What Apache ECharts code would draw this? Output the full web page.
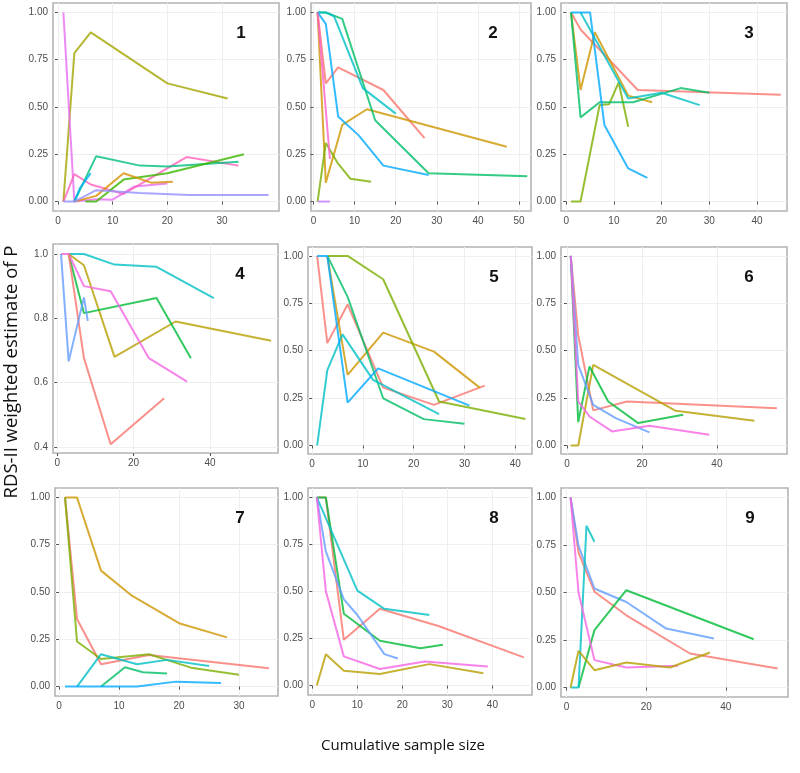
<!DOCTYPE html>
<html>
<head>
<meta charset="utf-8">
<script src="https://cdn.jsdelivr.net/npm/echarts@6/dist/echarts.min.js"></script>
<style>
	html, body { margin: 0; padding: 0; background: #fff; }
	#chart { width: 800px; height: 773px; }
</style>
</head>
<body>
<div id="chart"></div>
<script>
// values, one array of [sample size, estimate] per line

// panel 1
const p1_olive  = [[1, 0], [3, 0.785], [6, 0.895], [20, 0.625], [31, 0.545]];
const p1_violet = [[1, 1], [3, 0], [7, 0.012], [10, 0.01], [14, 0.08], [20, 0.095]];
const p1_pink   = [[1, 0], [3, 0.145], [6, 0.09], [12, 0.04], [23.5, 0.235], [33, 0.19]];
const p1_teal   = [[3, 0], [7, 0.24], [15, 0.19], [20, 0.185], [33, 0.21]];
const p1_green  = [[5, 0], [7, 0], [12, 0.116], [20, 0.15], [34, 0.25]];
const p1_orange = [[3, 0], [7, 0.03], [12, 0.15], [17, 0.1], [21, 0.105]];
const p1_blue   = [[3, 0], [4, 0.07], [6, 0.15]];
const p1_peri   = [[1, 0], [3, 0], [7, 0.06], [15, 0.045], [24, 0.035], [38.5, 0.035]];

// panel 2
const p2_red    = [[1, 1], [3, 0.625], [6, 0.71], [17, 0.59], [27, 0.335]];
const p2_orange = [[1, 1], [3, 0.1], [7, 0.405], [13, 0.488], [47, 0.29]];
const p2_olive  = [[1, 0], [3, 0.31], [6, 0.2], [9, 0.12], [14, 0.105]];
const p2_green  = [[1, 1], [3, 1], [7, 0.966], [15, 0.43], [28, 0.15], [52, 0.134]];
const p2_teal   = [[1, 1], [3, 1], [5, 0.98], [12, 0.6], [20, 0.465]];
const p2_blue   = [[1, 1], [3, 0.94], [6, 0.45], [11, 0.35], [17, 0.19], [28, 0.14]];
const p2_pink   = [[1, 1], [4, 0.225]];
const p2_violet = [[1, 0], [4, 0]];

// panel 3
const p3_red    = [[1, 1], [3, 0.91], [15, 0.59], [45, 0.565]];
const p3_orange = [[1, 1], [3, 0.59], [6, 0.895], [13, 0.56], [18, 0.525]];
const p3_olive  = [[1, 0], [3, 0], [7, 0.51], [9, 0.515], [11, 0.63], [13, 0.395]];
const p3_green  = [[1, 1], [3, 0.445], [7, 0.525], [14, 0.525], [24, 0.6], [30, 0.575]];
const p3_teal   = [[3, 1], [13, 0.545], [20, 0.575], [28, 0.51]];
const p3_blue   = [[1, 1], [5, 1], [8, 0.405], [13, 0.175], [17, 0.125]];

// panel 4
const p4_cyan    = [[3, 1], [7, 1], [15, 0.967], [26, 0.96], [41, 0.863]];
const p4_mustard = [[3, 1], [7, 0.965], [15, 0.68], [31, 0.79], [56, 0.73]];
const p4_green   = [[3, 1], [7, 0.816], [26, 0.863], [35, 0.676]];
const p4_pink    = [[1, 1], [3, 1], [7, 0.9], [14, 0.884], [24, 0.676], [34, 0.603]];
const p4_red     = [[3, 1], [7, 0.676], [14, 0.408], [28, 0.551]];
const p4_blue    = [[1, 1], [3, 0.666], [7, 0.865], [8, 0.792]];

// panel 5
const p5_red    = [[1, 1], [3, 0.54], [7, 0.744], [14, 0.305], [24, 0.214], [34, 0.316]];
const p5_orange = [[3, 1], [7, 0.372], [14, 0.595], [24, 0.495], [33, 0.305]];
const p5_olive  = [[3, 1], [7, 1], [14, 0.877], [25, 0.232], [42, 0.14]];
const p5_green  = [[3, 1], [7, 0.784], [14, 0.249], [22, 0.139], [30, 0.114]];
const p5_teal   = [[1, 0], [3, 0.398], [6, 0.586], [12, 0.346], [25, 0.165]];
const p5_blue   = [[1, 1], [3, 1], [7, 0.226], [13, 0.407], [31, 0.21]];

// panel 6
const p6_red     = [[1, 1], [3, 0.58], [7, 0.185], [16, 0.232], [56, 0.197]];
const p6_mustard = [[1, 0], [3, 0], [7, 0.425], [29, 0.183], [50, 0.13]];
const p6_green   = [[1, 1], [3, 0.123], [6, 0.417], [11, 0.232], [19, 0.118], [31, 0.162]];
const p6_blue    = [[1, 1], [3, 0.425], [7, 0.214], [13, 0.144], [22, 0.069]];
const p6_pink    = [[1, 1], [3, 0.232], [6, 0.153], [12, 0.074], [22, 0.104], [38, 0.056]];

// panel 7
const p7_gold  = [[1, 1], [3, 1], [7, 0.613], [12, 0.484], [20, 0.335], [28, 0.26]];
const p7_red   = [[1, 1], [3, 0.357], [7, 0.118], [15, 0.167], [35, 0.097]];
const p7_olive = [[1, 1], [3, 0.238], [7, 0.146], [15, 0.171], [22, 0.1], [30, 0.062]];
const p7_teal  = [[3, 0], [7, 0.171], [13, 0.118], [18, 0.141], [25, 0.109]];
const p7_green = [[7, 0], [11, 0.102], [14, 0.076], [18, 0.069]];
const p7_blue  = [[1, 0], [13, 0], [19.5, 0.026], [27, 0.019]];

// panel 8
const p8_red     = [[1, 1], [3, 1], [7, 0.243], [15, 0.408], [28, 0.317], [47, 0.15]];
const p8_green   = [[1, 1], [3, 1], [7, 0.382], [15, 0.238], [24, 0.199], [29, 0.217]];
const p8_cyan    = [[1, 1], [10, 0.505], [16, 0.408], [26, 0.375]];
const p8_blue    = [[1, 1], [3, 0.713], [7, 0.458], [10, 0.375], [16, 0.167], [19, 0.144]];
const p8_pink    = [[1, 1], [3, 0.502], [7, 0.155], [15, 0.088], [25, 0.128], [39, 0.102]];
const p8_mustard = [[1, 0], [3, 0.167], [7, 0.079], [15, 0.062], [26, 0.114], [38, 0.065]];

// panel 9
const p9_red     = [[1, 1], [3, 0.71], [7, 0.504], [15, 0.38], [31, 0.179], [53, 0.1]];
const p9_blue    = [[1, 1], [3, 0.745], [7, 0.521], [15, 0.45], [25, 0.31], [37, 0.258]];
const p9_green   = [[3, 0], [7, 0.302], [15, 0.512], [47, 0.254]];
const p9_cyan    = [[1, 0], [3, 0], [5, 0.851], [7, 0.767]];
const p9_pink    = [[1, 1], [3, 0.5], [7, 0.144], [15, 0.105], [28, 0.114]];
const p9_mustard = [[1, 0], [3, 0.193], [7, 0.091], [15, 0.132], [26, 0.105], [36, 0.184]];

// tick labels
const yTicksP  = [0, 0.25, 0.5, 0.75, 1];
const yTicks4  = [0.4, 0.6, 0.8, 1];
const xTicks30 = [0, 10, 20, 30];
const xTicks10 = [0, 10, 20, 30, 40, 50];
const xTicks20 = [0, 20, 40];

const panels = [
	{ name: '1', box: [53, 3, 226, 208], x: [-0.9, 40.4], xt: xTicks30, y: [-0.05, 1.05], yt: yTicksP,
	  lines: [p1_olive, p1_violet, p1_pink, p1_teal, p1_green, p1_orange, p1_blue, p1_peri],
	  colors: ['#A3A500', '#E76BF3', '#FF62BC', '#00BF7D', '#39B600', '#D89000', '#00B0F6', '#9590FF'] },
	{ name: '2', box: [311, 3, 220, 208], x: [-0.6, 52.9], xt: xTicks10, y: [-0.05, 1.05], yt: yTicksP,
	  lines: [p2_red, p2_orange, p2_olive, p2_green, p2_teal, p2_blue, p2_pink, p2_violet],
	  colors: ['#F8766D', '#CD9600', '#7CAE00', '#00BE67', '#00BFC4', '#00A9FF', '#FF61CC', '#C77CFF'] },
	{ name: '3', box: [561, 3, 226, 208], x: [-1.1, 46.3], xt: xTicks10, y: [-0.05, 1.05], yt: yTicksP,
	  lines: [p3_red, p3_orange, p3_olive, p3_green, p3_teal, p3_blue],
	  colors: ['#F8766D', '#CD9600', '#7CAE00', '#00BE67', '#00BFC4', '#00A9FF'] },
	{ name: '4', box: [53, 244, 225, 209], x: [-1.1, 57.8], xt: xTicks20, y: [0.381, 1.031], yt: yTicks4,
	  lines: [p4_cyan, p4_mustard, p4_green, p4_pink, p4_red, p4_blue],
	  colors: ['#00BFC4', '#B79F00', '#00BA38', '#F564E3', '#F8766D', '#619CFF'] },
	{ name: '5', box: [308, 247, 224, 207], x: [-0.8, 43.3], xt: xTicks10, y: [-0.045, 1.047], yt: yTicksP,
	  lines: [p5_red, p5_orange, p5_olive, p5_green, p5_teal, p5_blue],
	  colors: ['#F8766D', '#CD9600', '#7CAE00', '#00BE67', '#00BFC4', '#00A9FF'] },
	{ name: '6', box: [561, 247, 226, 207], x: [-1.6, 58.7], xt: xTicks20, y: [-0.045, 1.047], yt: yTicksP,
	  lines: [p6_red, p6_mustard, p6_green, p6_blue, p6_pink],
	  colors: ['#F8766D', '#B79F00', '#00BA38', '#619CFF', '#F564E3'] },
	{ name: '7', box: [55, 488, 223, 208], x: [-0.67, 36.5], xt: xTicks10, y: [-0.05, 1.05], yt: yTicksP,
	  lines: [p7_gold, p7_red, p7_olive, p7_teal, p7_green, p7_blue],
	  colors: ['#CD9600', '#F8766D', '#7CAE00', '#00BFC4', '#00BE67', '#00A9FF'] },
	{ name: '8', box: [308, 488, 224, 207], x: [-0.96, 48.8], xt: xTicks10, y: [-0.05, 1.05], yt: yTicksP,
	  lines: [p8_red, p8_green, p8_cyan, p8_blue, p8_pink, p8_mustard],
	  colors: ['#F8766D', '#00BA38', '#00BFC4', '#619CFF', '#F564E3', '#B79F00'] },
	{ name: '9', box: [561, 488, 227, 209], x: [-1.4, 55.6], xt: xTicks20, y: [-0.05, 1.05], yt: yTicksP,
	  lines: [p9_red, p9_blue, p9_green, p9_cyan, p9_pink, p9_mustard],
	  colors: ['#F8766D', '#619CFF', '#00BA38', '#00BFC4', '#F564E3', '#B79F00'] }
];

const chart = echarts.init(document.getElementById('chart'), null, { renderer: 'canvas' });

let grid = [], xAxis = [], yAxis = [], series = [], graphic = [];
const labelFont = { color: '#4d4d4d', fontSize: 10, fontFamily: 'Liberation Sans, Arial, sans-serif' };

panels.forEach((p, i) => {
	let [left, top, width, height] = p.box;
	grid.push({ left, top, width, height, show: true, borderColor: '#b4b4b4', borderWidth: 1.6, backgroundColor: '#fff' });

	let xt = p.xt.filter(v => v >= p.x[0] && v <= p.x[1]);
	xAxis.push({
		type: 'value', gridIndex: i, min: p.x[0], max: p.x[1],
		axisLine: { show: false },
		axisTick: { show: true, length: 3, lineStyle: { color: '#555' }, customValues: xt },
		axisLabel: Object.assign({ margin: 5, customValues: xt }, labelFont),
		splitLine: { show: true, lineStyle: { color: '#eeeeee', width: 1 } }
	});

	let digits = p.name === '4' ? 1 : 2;
	yAxis.push({
		type: 'value', gridIndex: i, min: p.y[0], max: p.y[1],
		axisLine: { show: false },
		axisTick: { show: true, length: 3, lineStyle: { color: '#555' }, customValues: p.yt },
		axisLabel: Object.assign({ margin: 5, customValues: p.yt, formatter: v => v.toFixed(digits) }, labelFont),
		splitLine: { show: true, lineStyle: { color: '#eeeeee', width: 1 } }
	});

	p.lines.forEach((pts, k) => {
		series.push({
			type: 'line', xAxisIndex: i, yAxisIndex: i,
			data: pts, showSymbol: false, symbol: 'none', silent: true,
			lineStyle: { color: p.colors[k], width: 2, opacity: 0.8 },
			itemStyle: { color: p.colors[k] }
		});
	});

	// panel number, top right of each panel (kept above the grid lines)
	graphic.push({
		type: 'text', x: left + width - 38, y: top + 30, z: 100,
		style: { text: p.name, font: 'bold 17px "Liberation Sans", sans-serif', fill: '#111',
			textAlign: 'center', textVerticalAlign: 'middle' }
	});
});

graphic.push({
	type: 'text', rotation: Math.PI / 2, x: 12, y: 372, z: 100,
	style: { text: 'RDS-II weighted estimate of P', font: '18.5px "Open Sans", sans-serif', fill: '#111',
		textAlign: 'center', textVerticalAlign: 'middle' }
});
graphic.push({
	type: 'text', x: 403, y: 746, z: 100,
	style: { text: 'Cumulative sample size', font: '15px "Open Sans", sans-serif', fill: '#111',
		textAlign: 'center', textVerticalAlign: 'middle' }
});

chart.setOption({
	backgroundColor: '#fff',
	animation: false,
	grid, xAxis, yAxis, series, graphic
});
</script>
</body>
</html>
